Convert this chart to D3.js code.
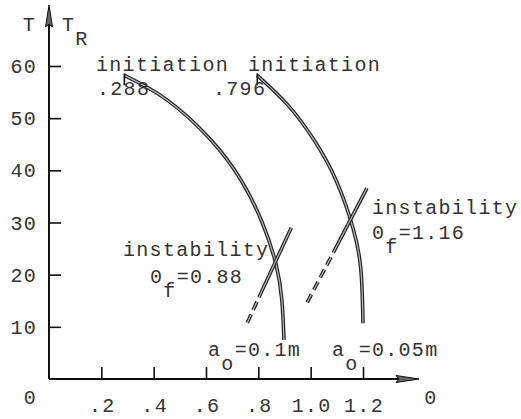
<!DOCTYPE html>
<html>
<head>
<meta charset="utf-8">
<script src="https://cdn.jsdelivr.net/npm/d3@7"></script>
<style>
  body { margin: 0; background: #fff; }
  text { font-family: "Liberation Mono", "DejaVu Sans Mono", monospace; font-size: 20px; letter-spacing: 1.3px; fill: #333; }
</style>
</head>
<body>
<script>
// axis ticks
var yTicks = [10, 20, 30, 40, 50, 60];
var xTicks = [0.2, 0.4, 0.6, 0.8, 1.0, 1.2];
var xTickLabels = [".2", ".4", ".6", ".8", "1.0", "1.2"];

// crack curves (x, T) for a_o = 0.1m and a_o = 0.05m
var curveA = [[0.288, 58.2], [0.451, 53.5], [0.619, 45.8], [0.734, 38.1], [0.814, 30.1], [0.868, 21.9], [0.89, 15.1], [0.898, 7.5]];
var curveB = [[0.796, 58.2], [0.913, 52.5], [1.013, 45.8], [1.097, 38.1], [1.162, 28.9], [1.192, 20.9], [1.2, 10.7]];

// instability lines: first segment dashed, second solid
var instabA = [[0.758, 10.8], [0.81, 16.5], [0.926, 29]];
var instabB = [[0.987, 14.7], [1.101, 25.6], [1.215, 36.6]];

var svg = d3.select("body")
    .append("svg")
    .attr("width", 521)
    .attr("height", 419);

var x = d3.scaleLinear().domain([0, 1.2]).range([49, 363]);
var y = d3.scaleLinear().domain([0, 60]).range([379, 66]);

// axes
svg.append("g")
    .attr("transform", "translate(" + x(0) + ",0)")
    .call(d3.axisRight(y).tickValues(yTicks).tickSize(12).tickSizeOuter(0).tickFormat(""))
    .call(g => g.select(".domain").remove())
    .selectAll("line").attr("stroke", "#111").attr("stroke-width", 1.6);

svg.append("g")
    .attr("transform", "translate(0," + y(0) + ")")
    .call(d3.axisTop(x).tickValues(xTicks).tickSize(12).tickSizeOuter(0).tickFormat(""))
    .call(g => g.select(".domain").remove())
    .selectAll("line").attr("stroke", "#111").attr("stroke-width", 1.6);

svg.append("line")
    .attr("x1", x(0)).attr("y1", y(0)).attr("x2", x(0)).attr("y2", 8)
    .attr("stroke", "#111").attr("stroke-width", 2);
svg.append("line")
    .attr("x1", x(0)).attr("y1", y(0)).attr("x2", 416).attr("y2", y(0))
    .attr("stroke", "#111").attr("stroke-width", 2);

// arrow heads
svg.append("path")
    .attr("d", "M49,5 L45.5,27 L49,24 L52.5,27 Z")
    .attr("fill", "#666").attr("stroke", "#111").attr("stroke-width", 1);
svg.append("path")
    .attr("d", "M419,379 L396,375.5 L399,379 L396,382.5 Z")
    .attr("fill", "#666").attr("stroke", "#111").attr("stroke-width", 1);

// tick labels
svg.selectAll(".ylab")
    .data(yTicks)
    .enter()
    .append("text")
    .attr("class", "ylab")
    .attr("x", 37)
    .attr("y", d => y(d) + 7)
    .attr("text-anchor", "end")
    .text(d => d);

svg.selectAll(".xlab")
    .data(xTicks)
    .enter()
    .append("text")
    .attr("class", "xlab")
    .attr("x", d => x(d) + 1)
    .attr("y", 412)
    .attr("text-anchor", "middle")
    .text((d, i) => xTickLabels[i]);

svg.append("text").attr("x", 37).attr("y", 404).attr("text-anchor", "end").text("0");
svg.append("text").attr("x", 431).attr("y", 404).attr("text-anchor", "middle").text("0");

// axis titles
svg.append("text").attr("x", 36).attr("y", 31).attr("text-anchor", "end").text("T");
var tr = svg.append("text").attr("x", 62).attr("y", 31);
tr.append("tspan").text("T");
tr.append("tspan").attr("dy", 14).text("R");

// curves
var line = d3.line()
    .x(d => x(d[0]))
    .y(d => y(d[1]))
    .curve(d3.curveNatural);

function hollow(data, dash) {
    svg.append("path")
        .attr("d", line(data))
        .attr("fill", "none")
        .attr("stroke", "#222")
        .attr("stroke-width", 3.6)
        .attr("stroke-dasharray", dash ? "9,5" : null);
    svg.append("path")
        .attr("d", line(data))
        .attr("fill", "none")
        .attr("stroke", "#bbb")
        .attr("stroke-width", 1.2)
        .attr("stroke-dasharray", dash ? "9,5" : null);
}

hollow(curveA, false);
hollow(curveB, false);
hollow(instabA.slice(0, 2), true);
hollow(instabA.slice(1), false);
hollow(instabB.slice(0, 2), true);
hollow(instabB.slice(1), false);

// start markers
[curveA[0], curveB[0]].forEach(function(p) {
    svg.append("line")
        .attr("x1", x(p[0])).attr("x2", x(p[0]))
        .attr("y1", y(p[1]) - 2).attr("y2", y(p[1]) + 10)
        .attr("stroke", "#111").attr("stroke-width", 1.6);
});

// annotations
svg.append("text").attr("x", 96).attr("y", 71).text("initiation");
svg.append("text").attr("x", 248).attr("y", 71).text("initiation");
svg.append("text").attr("x", 97).attr("y", 95).text(".288");
svg.append("text").attr("x", 213).attr("y", 95).text(".796");

svg.append("text").attr("x", 123).attr("y", 256).text("instability");
var fa = svg.append("text").attr("x", 150).attr("y", 283);
fa.append("tspan").text("0");
fa.append("tspan").attr("dy", 14).text("f");
fa.append("tspan").attr("dy", -14).text("=0.88");

svg.append("text").attr("x", 372).attr("y", 214).text("instability");
var fb = svg.append("text").attr("x", 372).attr("y", 239);
fb.append("tspan").text("0");
fb.append("tspan").attr("dy", 14).text("f");
fb.append("tspan").attr("dy", -14).text("=1.16");

var aa = svg.append("text").attr("x", 208).attr("y", 356);
aa.append("tspan").text("a");
aa.append("tspan").attr("dy", 14).text("o");
aa.append("tspan").attr("dy", -14).text("=0.1m");

var ab = svg.append("text").attr("x", 332).attr("y", 356);
ab.append("tspan").text("a");
ab.append("tspan").attr("dy", 14).text("o");
ab.append("tspan").attr("dy", -14).text("=0.05m");
</script>
</body>
</html>
